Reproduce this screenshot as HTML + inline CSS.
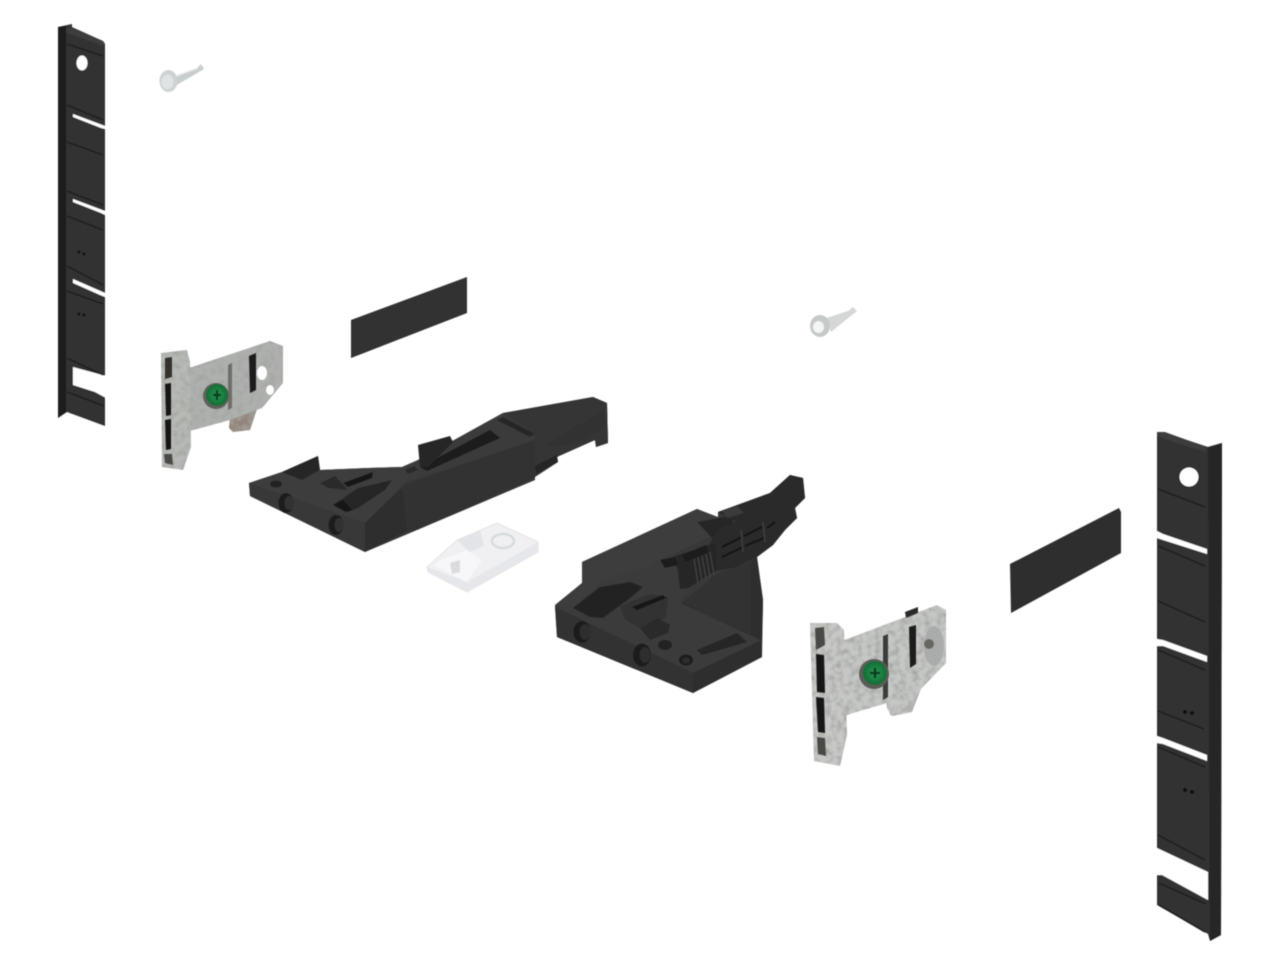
<!DOCTYPE html>
<html><head><meta charset="utf-8"><title>Parts diagram</title>
<style>html,body{margin:0;padding:0;background:#fff}svg{display:block}</style></head>
<body>
<svg width="1280" height="960" viewBox="0 0 1280 960" xmlns="http://www.w3.org/2000/svg">
<defs>
<filter id="s" x="-5%" y="-5%" width="110%" height="110%"><feGaussianBlur stdDeviation="0.6"/></filter>
<filter id="m" x="-5%" y="-5%" width="110%" height="110%">
<feTurbulence type="fractalNoise" baseFrequency="0.16" numOctaves="2" seed="4" result="n"/>
<feColorMatrix in="n" type="matrix" values="0 0 0 0 0.38  0 0 0 0 0.38  0 0 0 0 0.36  2.2 0 0 0 -0.85" result="c"/>
<feComposite in="c" in2="SourceAlpha" operator="in" result="d"/>
<feMerge result="o"><feMergeNode in="SourceGraphic"/><feMergeNode in="d"/></feMerge>
<feGaussianBlur in="o" stdDeviation="0.6"/>
</filter>
<linearGradient id="grip" x1="0" y1="0" x2="1" y2="1"><stop offset="0" stop-color="#3d3d3d"/><stop offset="1" stop-color="#2b2b2b"/></linearGradient>
<linearGradient id="wall" x1="0" y1="0" x2="1" y2="0"><stop offset="0" stop-color="#3a3a3a"/><stop offset="1" stop-color="#2e2e2e"/></linearGradient>
<radialGradient id="g"><stop offset="0" stop-color="#2f9a55"/><stop offset="1" stop-color="#0f6b34"/></radialGradient>
</defs>

<!-- LEFT RAIL -->
<g filter="url(#s)">
<polygon points="58,27 72,24 72,29 103,41 105,44 105,426 67,412 58,418" fill="#333"/>
<polygon points="58,27 66,26 66,412 58,418" fill="#1d1d1d"/>
<polygon points="66,29 72,27 103,41 105,44 104,46 67,33" fill="#3c3c3c"/>
<polygon points="73,114 105,126 105,129 101,128 73,117" fill="#fff"/>
<polygon points="73,199 105,211 105,215 101,213 73,202" fill="#fff"/>
<polygon points="73,279 105,293 105,297 100,295 73,283" fill="#fff"/>
<polygon points="73,367 106,376 106,398 95,392 73,385" fill="#fff"/>
<g stroke="#1c1c1c" stroke-width="1.4" fill="none">
<path d="M67 44L103 56M67 105L103 120M67 142L103 155M67 191L103 205M67 216L103 230M67 266L103 285M67 291L103 304M67 358L103 375M67 392L104 406"/>
</g>
<ellipse cx="82" cy="63" rx="5.5" ry="7.5" fill="#fff"/>
<g fill="#111"><circle cx="79" cy="252" r="1.4"/><circle cx="84" cy="254" r="1.4"/><circle cx="79" cy="314" r="1.4"/><circle cx="84" cy="315" r="1.4"/></g>
</g>

<!-- SMALL SCREW 1 -->
<g filter="url(#s)">
<path d="M173 78L196 69L201 64L204 69L199 72L175 86Z" fill="#c9cdcd"/>
<path d="M176 76L198 68" stroke="#e8eaea" stroke-width="1.2"/>
<ellipse cx="168.500" cy="81" rx="9" ry="11" fill="#ced2d2"/>
<ellipse cx="167.500" cy="82" rx="6" ry="7.500" fill="#e0e3e3"/>
</g>

<!-- LEFT BRACKET -->
<g filter="url(#m)">
<polygon points="230,416 258,406 250,430 233,432 229,428" fill="#94857c"/>
<polygon points="186,369 270,341 283,346 283,383 262,408 230,420 186,432" fill="#adb1ad"/>
<polygon points="161,353 187,350 190,362 191,447 183,470 162,467" fill="#b6b9b5"/>
</g>
<g filter="url(#s)">
<polygon points="165,358 172,357 172,377 165,379" fill="#35332f"/>
<polygon points="165,384 171,383 171,415 166,416" fill="#141414"/>
<polygon points="165,420 171,419 171,449 166,450" fill="#141414"/>
<polygon points="164,454 172,454 173,465 165,463" fill="#4b4a45"/>
<polygon points="249,356 256,353 256,390 250,393" fill="#1e1e1c"/>
<polygon points="228,365 232,363 232,408 228,410" fill="#6d6e6b"/>
<ellipse cx="262" cy="373" rx="5" ry="7" fill="#fff"/>
<ellipse cx="270" cy="390" rx="4" ry="5" fill="#fff"/>
<circle cx="216" cy="396" r="13" fill="#5e605b"/>
<circle cx="217" cy="395" r="11" fill="url(#g)"/>
<path d="M213 395h8M217 390v10" stroke="#0a4122" stroke-width="2.4"/>
</g>

<!-- COVER PLATE 1 -->
<g filter="url(#s)"><polygon points="351,320 467,277 467,313 351,358" fill="#303030"/></g>

<!-- LATCH 1 -->
<g filter="url(#s)">
<polygon points="249,483 282,472 318,456 320,470 368,468 402,467 418,460 503,413 593,397 607,403 608,443 596,447 595,440 557,457 558,462 535,477 535,480 417,530 365,552 250,496" fill="#353535"/>
<!-- handle -->
<polygon points="503,413 593,397 607,403 608,443 596,447 595,440 536,466 535,434" fill="#343434"/>
<path d="M540 438C560 422 590 410 604 408L605 425C590 440 560 450 543 445Z" fill="url(#grip)"/>
<polygon points="535,466 557,455 558,462 536,474" fill="#282828"/>
<!-- top of base -->
<polygon points="249,483 282,472 320,470 368,468 402,467 418,460 405,483 365,523" fill="#3d3d3d"/>
<!-- body top -->
<polygon points="405,483 418,460 503,413 535,434 535,440" fill="#3a3a3a"/>
<polygon points="497,420 503,417 535,434 530,437" fill="#282828"/>
<!-- front -->
<polygon points="249,483 365,523 365,552 250,496" fill="#383838"/>
<!-- ramp -->
<polygon points="365,523 402,488 408,530 365,552" fill="#2e2e2e"/>
<!-- body side -->
<polygon points="403,486 535,440 535,477 417,530 407,530" fill="#313131"/>
<!-- wall -->
<polygon points="282,472 318,456 320,470 302,480" fill="#262626"/>
<!-- details -->
<polygon points="320,483 335,476 348,490 328,488" fill="#2c2c2c"/>
<polygon points="343,483 373,472 372,478 348,487" fill="#171717"/>
<polygon points="333,505 358,488 392,480 385,490 358,508 348,512" fill="#262626"/>
<polygon points="333,505 343,500 352,510 346,512" fill="#181818"/>
<polygon points="420,467 490,430 500,438 427,471" fill="#1a1a1a"/>
<polygon points="418,445 450,436 453,442 428,467 420,467" fill="#262626"/>
<polygon points="405,470 414,466 418,470 408,474" fill="#2b2b2b"/>
<ellipse cx="286" cy="503" rx="7.500" ry="10" fill="#1e1e1e"/><ellipse cx="289" cy="503" rx="4.500" ry="7" fill="#333"/>
<ellipse cx="336" cy="525" rx="7.500" ry="10" fill="#1e1e1e"/><ellipse cx="339" cy="525" rx="4.500" ry="7" fill="#333"/>
<ellipse cx="276" cy="484" rx="6" ry="3.500" fill="#222"/>
</g>

<!-- WHITE CLIP -->
<g filter="url(#s)">
<polygon points="427,567 457,540 497,523 538,542 538,552 467,592 428,572" fill="#f0f0f3" stroke="#e3e4e7" stroke-width="1"/>
<polygon points="467,582 538,542 538,552 467,592 428,572 427,567" fill="#e6e7ea"/>
<polygon points="457,540 480,530 484,546 470,552" fill="#e2e4e7"/>
<polygon points="440,560 467,550 482,560 467,582 434,566" fill="#f7f7f9"/>
<ellipse cx="503" cy="541" rx="11" ry="7" fill="none" stroke="#d8dbde" stroke-width="2.500"/>
<polygon points="450,563 460,560 460,572 452,574" fill="#d9dbdd"/>
</g>

<!-- LATCH 2 -->
<g filter="url(#s)">
<!-- silhouette -->
<polygon points="555,605 582,583 582,562 697,509 718,517 718,512 770,493 790,475 803,478 805,498 795,508 797,518 785,530 773,545 757,557 763,600 762,657 693,693 557,637" fill="#373737"/>
<!-- top-floor -->
<polygon points="555,607 582,583 650,563 682,603 762,640 693,673" fill="#3b3b3b"/>
<!-- right wall -->
<polygon points="682,603 757,557 763,600 762,640" fill="url(#wall)"/>
<polygon points="682,603 715,575 745,563 742,590 735,625" fill="#303030"/>
<!-- front -->
<polygon points="555,607 693,673 693,693 557,637" fill="#333"/>
<polygon points="693,673 762,640 762,657 693,693" fill="#2e2e2e"/>
<!-- band -->
<polygon points="582,562 697,509 737,525 717,533 660,560 650,565 603,580 573,607 555,606 582,585" fill="#3e3e3e"/>
<polygon points="697,522 730,516 735,526 712,538" fill="#262626"/>
<!-- scoop -->
<polygon points="573,608 600,587 630,582 643,587 630,598 603,618 590,617" fill="#232323"/>
<!-- lever -->
<polygon points="718,512 770,493 790,475 803,478 805,498 795,508 797,518 785,530 773,545 757,557 733,568 716,571 700,572 712,538 720,528 736,522" fill="#2a2a2a"/>
<polygon points="722,511 737,506 744,513 727,518" fill="#3a3a3a"/>
<g stroke="#121212" stroke-width="2"><path d="M722 547L742 537M744 536L762 527M722 557L743 547M745 546L764 538M767 528L775 522"/></g>
<g stroke="#444" stroke-width="1.100"><path d="M741 530L743 552M763 522L765 542"/></g>
<!-- catch block -->
<polygon points="673,557 715,543 717,570 688,588 680,589 678,570" fill="#262626"/>
<g stroke="#454545" stroke-width="1"><path d="M694 559L698 583M698 557L702 581M702 556L706 579M706 554L710 577M710 552L714 575"/></g>
<polygon points="682,555 706,545 708,552 686,562" fill="#1a1a1a"/>
<!-- ridge -->
<polygon points="647,566 660,558 676,566 680,589 690,592 680,600 668,593 655,590" fill="#3a3a3a"/>
<polygon points="660,560 675,557 678,565 665,568" fill="#1f1f1f"/>
<polygon points="620,606 650,594 668,597 666,618 640,628 625,620" fill="#333"/>
<polygon points="632,607 663,595 666,598 637,610" fill="#161616"/>
<polygon points="640,628 658,618 670,625 668,633 650,640" fill="#2a2a2a"/>
<ellipse cx="665" cy="645" rx="7" ry="5" fill="#222"/>
<!-- strip + hole -->
<polygon points="697,650 737,633 747,642 702,655" fill="#262626"/>
<path d="M682 603L762 640" stroke="#2e2e2e" stroke-width="1" fill="none"/>
<ellipse cx="686" cy="660" rx="7" ry="5.500" fill="#1c1c1c"/><ellipse cx="686" cy="660.500" rx="4" ry="3" fill="#2f2f2f"/>
<ellipse cx="582" cy="632" rx="8.500" ry="11" fill="#1c1c1c"/><ellipse cx="585" cy="632" rx="5.500" ry="8" fill="#2d2d2d"/>
<ellipse cx="642" cy="655" rx="9" ry="11.500" fill="#1c1c1c"/><ellipse cx="645" cy="655" rx="5.500" ry="8" fill="#2d2d2d"/>
</g>

<!-- SMALL SCREW 2 -->
<g filter="url(#s)">
<path d="M826 318L848 311L853 307L857 311L852 315L831 332Z" fill="#d5d7d7"/>
<ellipse cx="820" cy="326" rx="10" ry="11" fill="#c5c9c9"/>
<ellipse cx="818.500" cy="327" rx="5.500" ry="6" fill="#f4f5f5"/>
</g>

<!-- RIGHT BRACKET -->
<g filter="url(#m)">
<polygon points="886,700 922,686 912,712 892,716 887,708" fill="#b5b6b2"/>
<polygon points="842,641 937,605 946,610 946,663 920,690 907,713 890,715 887,703 853,713 842,717" fill="#c4c7c5"/>
<polygon points="810,623 837,623 844,630 847,735 840,766 814,761" fill="#c6c8c5"/>
</g>
<g filter="url(#s)">
<polygon points="815,628 824,627 825,645 816,650" fill="#4a4a45"/>
<polygon points="816,654 824,655 825,693 817,692" fill="#141414"/>
<polygon points="816,697 824,698 825,733 818,732" fill="#141414"/>
<polygon points="817,737 825,738 826,756 818,754" fill="#4a4a45"/>
<polygon points="909,627 916,625 916,664 910,668" fill="#1e1e1c"/>
<polygon points="883,636 888,634 888,697 883,700" fill="#3b3c39"/>
<polygon points="905,612 918,607 918,613 906,618" fill="#2a2a28"/>
<ellipse cx="934" cy="646" rx="10" ry="20" fill="#a9acaa"/>
<circle cx="929" cy="644" r="5" fill="#66675f"/>
<circle cx="874" cy="674" r="15" fill="#5a5c58"/>
<circle cx="875" cy="673" r="12" fill="url(#g)"/>
<path d="M870 673h10M875 668v10" stroke="#0a4122" stroke-width="2.600"/>
</g>

<!-- COVER PLATE 2 -->
<g filter="url(#s)">
<polygon points="1010,564 1119,508 1121,512 1121,553 1011,613" fill="#2e2e2e"/>
</g>

<!-- RIGHT RAIL -->
<g filter="url(#s)">
<polygon points="1157,432 1175,436 1208,447 1222,443 1221,935 1210,941 1208,934 1157,905" fill="#333"/>
<polygon points="1208,447 1222,443 1221,935 1210,941" fill="#262626"/>
<polygon points="1157,432 1165,432 1206,447 1206,452 1168,440 1157,436" fill="#3c3c3c"/>
<polygon points="1157,531 1163,534 1207,549 1207,554 1163,540 1157,538" fill="#fff"/>
<polygon points="1157,639 1163,640 1207,656 1207,662 1163,646 1157,646" fill="#fff"/>
<polygon points="1157,736 1163,738 1207,755 1207,761 1163,744 1157,743" fill="#fff"/>
<polygon points="1157,848 1208,872 1208,900 1162,875 1157,875" fill="#fff"/>
<g stroke="#1c1c1c" stroke-width="1.400" fill="none">
<path d="M1158 489L1205 507M1158 546L1205 566M1158 601L1205 622M1158 650L1205 670M1158 711L1204 729M1158 747L1205 767M1158 835L1205 860M1159 883L1206 904M1159 905L1205 932"/>
</g>
<circle cx="1189" cy="477" r="10" fill="#fff" stroke="#1c1c1c" stroke-width="1"/>
<g fill="#111"><circle cx="1185" cy="712" r="2"/><circle cx="1192" cy="713" r="2"/><circle cx="1185" cy="790" r="2"/><circle cx="1192" cy="792" r="2"/></g>
</g>
</svg>
</body></html>
